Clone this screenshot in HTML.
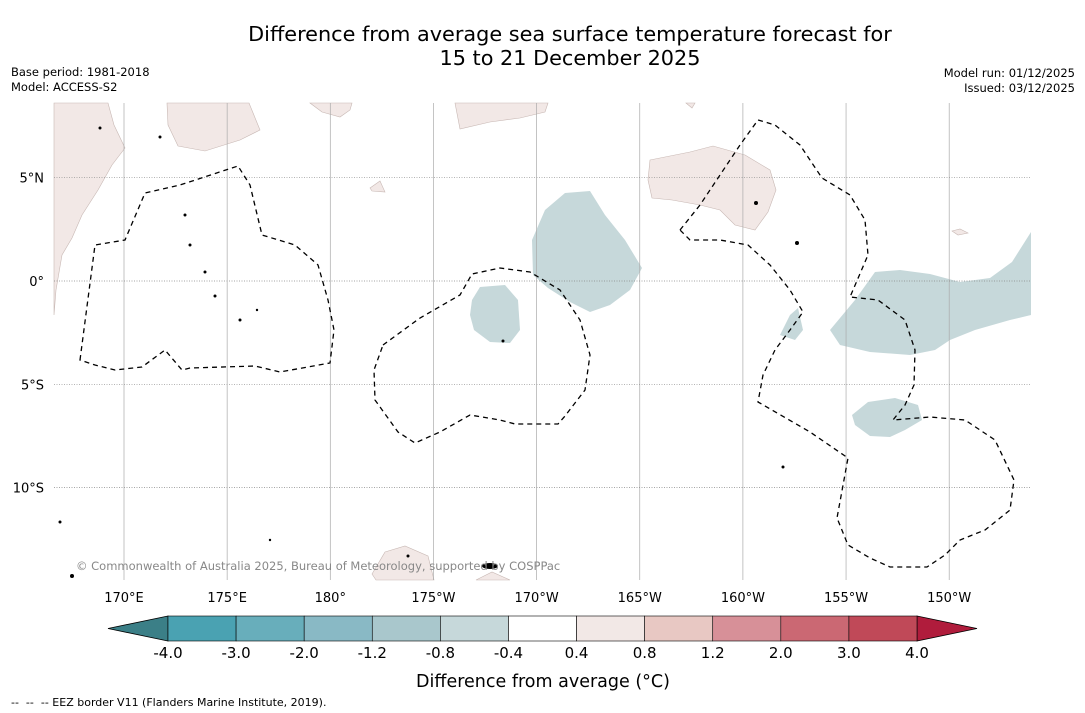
<!DOCTYPE html>
<html><head><meta charset="utf-8"><style>
body{margin:0;background:#fff;font-family:"DejaVu Sans","Liberation Sans",sans-serif;}
#wrap{position:relative;width:1085px;height:713px;overflow:hidden;background:#fff}
.t{position:absolute;white-space:nowrap;color:#000}
</style></head><body>
<div id="wrap">
<div class="t" style="left:0;width:1140px;text-align:center;top:22px;font-size:20.8px;line-height:24px">Difference from average sea surface temperature forecast for<br>15 to 21 December 2025</div>
<div class="t" style="left:11px;top:65px;font-size:11.5px;line-height:15px">Base period: 1981-2018<br>Model: ACCESS-S2</div>
<div class="t" style="right:10px;top:66px;font-size:11.5px;line-height:15px;text-align:right">Model run: 01/12/2025<br>Issued: 03/12/2025</div>
<svg id="map" width="1085" height="713" style="position:absolute;left:0;top:0">
<g id="land" fill="#f2e8e6" stroke="#c8b8b4" stroke-width="0.6">
<path d="M54,103 L108,103 L114,125 L125,148 L112,165 L98,190 L82,215 L72,238 L62,255 L56,290 L54,315 Z"/>
<path d="M167,103 L249,103 L260,130 L240,140 L205,151 L178,146 L168,125 Z"/>
<path d="M310,103 L352,103 L350,110 L340,117 L322,112 Z"/>
<path d="M455,103 L548,103 L545,112 L520,118 L490,122 L460,129 Z"/>
<path d="M686,103 L695,103 L692,108 Z"/>
<path d="M650,160 L690,152 L713,146 L745,155 L770,170 L776,190 L768,212 L755,230 L735,225 L720,210 L700,205 L672,200 L652,198 L648,180 Z"/>
<path d="M370,188 L380,181 L385,192 L372,191 Z"/>
<path d="M952,231 L960,229 L968,233 L958,235 Z"/>
<path d="M372,574 L385,552 L405,546 L428,556 L434,580 L376,580 Z"/>
<path d="M476,580 L492,572 L510,580 Z"/>
</g>
<g id="cool" fill="#c6d8da">
<path d="M532,240 L545,210 L565,193 L590,191 L605,215 L625,240 L642,268 L630,290 L610,305 L590,312 L570,302 L548,288 L533,275 Z"/>
<path d="M472,300 L480,287 L505,285 L518,300 L520,330 L510,343 L490,342 L474,330 L470,315 Z"/>
<path d="M830,330 L855,300 L875,272 L900,270 L930,274 L960,282 L990,278 L1012,262 L1031,232 L1031,315 L1010,320 L975,330 L950,340 L935,350 L910,355 L870,352 L840,345 Z"/>
<path d="M780,335 L790,315 L798,308 L803,330 L795,340 Z"/>
<path d="M852,415 L868,402 L895,398 L918,405 L922,420 L905,430 L890,437 L870,436 L855,425 Z"/>
</g>
<g id="grid" stroke="#888" stroke-width="0.7" stroke-dasharray="1,1.5"></g>
<g id="eez" fill="none" stroke="#000" stroke-width="1.3" stroke-dasharray="5,4">
<path d="M80,360 L95,245 L125,240 L145,193 L180,185 L238,166 L250,185 L262,235 L295,245 L318,265 L328,300 L334,330 L330,363 L280,372 L255,366 L190,368 L182,370 L165,350 L142,367 L115,370 L95,365 Z"/>
<path d="M383,345 L420,318 L460,295 L472,274 L500,268 L530,272 L560,290 L580,320 L590,355 L585,390 L565,416 L558,424 L515,424 L500,420 L470,415 L440,432 L415,443 L398,432 L375,400 L374,370 Z"/>
<path d="M680,230 L700,205 L720,175 L740,145 L758,120 L775,125 L800,145 L822,178 L850,195 L865,220 L868,255 L850,297 L878,300 L905,320 L915,350 L914,385 L905,405 L893,420 L930,417 L965,420 L995,440 L1014,480 L1010,510 L985,530 L960,540 L945,555 L927,567 L890,567 L870,558 L848,545 L837,518 L848,458 L810,432 L758,402 L763,375 L775,350 L790,330 L803,312 L790,290 L770,265 L748,245 L720,240 L690,240 Z"/>
</g>
<g id="islands" fill="#000">
<circle cx="160" cy="137" r="1.5"/><circle cx="100" cy="128" r="1.5"/><circle cx="185" cy="215" r="1.5"/><circle cx="190" cy="245" r="1.5"/><circle cx="205" cy="272" r="1.5"/><circle cx="215" cy="296" r="1.5"/><circle cx="240" cy="320" r="1.5"/><circle cx="257" cy="310" r="1.2"/><circle cx="503" cy="341" r="1.5"/><circle cx="756" cy="203" r="2"/><circle cx="797" cy="243" r="2"/><circle cx="783" cy="467" r="1.5"/><circle cx="60" cy="522" r="1.5"/><circle cx="72" cy="576" r="2"/><ellipse cx="490" cy="566" rx="8" ry="3"/><circle cx="408" cy="556" r="1.5"/><circle cx="270" cy="540" r="1.2"/>
</g>
<g id="ticks" font-size="13" fill="#000"></g>
<text x="76" y="570" font-size="11.5" fill="#888">© Commonwealth of Australia 2025, Bureau of Meteorology, supported by COSPPac</text>
<g id="cbar"></g>
<text x="543" y="687" font-size="17.5" text-anchor="middle">Difference from average (°C)</text>
<text x="11" y="706" font-size="11" xml:space="preserve">--  --  -- EEZ border V11 (Flanders Marine Institute, 2019).</text>
</svg>
</div>
<script>
const lonTicks=[170,175,180,185,190,195,200,205,210];
const lonLabels=["170°E","175°E","180°","175°W","170°W","165°W","160°W","155°W","150°W"];
const latTicks=[5,0,-5,-10];
const latLabels=["5°N","0°","5°S","10°S"];
const levels=["-4.0","-3.0","-2.0","-1.2","-0.8","-0.4","0.4","0.8","1.2","2.0","3.0","4.0"];
const colors=["#4aa2b2","#68aebb","#89b9c5","#a9c7cc","#c6d8da","#ffffff","#f2e8e6","#e8c8c3","#d79098","#cb6873","#c04958"];
const lowExt="#3b7f87", highExt="#b01c3c";
const NS="http://www.w3.org/2000/svg";
const xL=lon=>124+(lon-170)*20.63;
const yL=lat=>281-lat*20.66;
const mx0=54,mx1=1031,my0=103,my1=580;
const grid=document.getElementById('grid'),ticks=document.getElementById('ticks');
lonTicks.forEach((v,i)=>{
 const l=document.createElementNS(NS,'line');
 l.setAttribute('x1',xL(v));l.setAttribute('x2',xL(v));l.setAttribute('y1',my0);l.setAttribute('y2',my1);
 l.setAttribute('stroke','#aaa');l.setAttribute('stroke-dasharray','none');
 
 
 grid.appendChild(l);
 const t=document.createElementNS(NS,'text');
 t.setAttribute('x',xL(v));t.setAttribute('y',602);t.setAttribute('text-anchor','middle');t.textContent=lonLabels[i];
 
 
 ticks.appendChild(t);
});
latTicks.forEach((v,i)=>{
 const l=document.createElementNS(NS,'line');
 l.setAttribute('x1',mx0);l.setAttribute('x2',mx1);l.setAttribute('y1',yL(v));l.setAttribute('y2',yL(v));
 
 
 grid.appendChild(l);
 const t=document.createElementNS(NS,'text');
 t.setAttribute('x',44);t.setAttribute('y',yL(v)+5);t.setAttribute('text-anchor','end');t.textContent=latLabels[i];
 
 
 ticks.appendChild(t);
});
const cb=document.getElementById('cbar');
const bx0=168,bx1=917,by0=616,by1=641,n=colors.length,bw=(bx1-bx0)/n;
const xb=i=>bx0+i*bw;
const lt=document.createElementNS(NS,'polygon');
lt.setAttribute('points',`${bx0},${by0} 108,${(by0+by1)/2} ${bx0},${by1}`);lt.setAttribute('fill',lowExt);lt.setAttribute('stroke','#000');lt.setAttribute('stroke-width','0.8');


cb.appendChild(lt);
const ht=document.createElementNS(NS,'polygon');
ht.setAttribute('points',`${bx1},${by0} 977,${(by0+by1)/2} ${bx1},${by1}`);ht.setAttribute('fill',highExt);ht.setAttribute('stroke','#000');ht.setAttribute('stroke-width','0.8');


cb.appendChild(ht);
colors.forEach((c,i)=>{
 const r=document.createElementNS(NS,'rect');
 r.setAttribute('x',xb(i));r.setAttribute('y',by0);r.setAttribute('width',bw);r.setAttribute('height',by1-by0);
 r.setAttribute('fill',c);r.setAttribute('stroke','#000');r.setAttribute('stroke-width','0.6');
 
 
 cb.appendChild(r);
});
levels.forEach((v,i)=>{
 const t=document.createElementNS(NS,'text');
 t.setAttribute('x',xb(i));t.setAttribute('y',658);t.setAttribute('text-anchor','middle');t.setAttribute('font-size','15');t.textContent=v;
 
 
 cb.appendChild(t);
});
</script>
</body></html>
